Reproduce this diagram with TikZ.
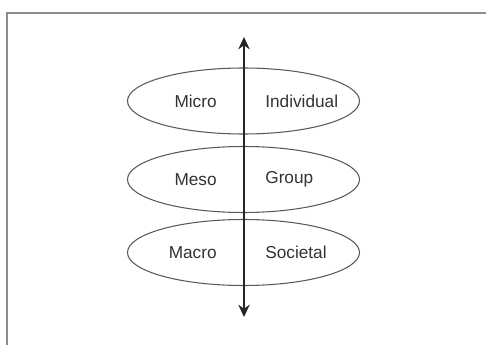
\documentclass[tikz,border=0pt]{standalone}
\usepackage{fontspec}
\setmainfont{Liberation Sans}
\usepackage{tikz}
\usetikzlibrary{shapes.geometric, arrows.meta}

\begin{document}
\begin{tikzpicture}[
    level/.style={draw=black!65, line width=0.6pt, ellipse,
      minimum width=4.64cm, minimum height=1.32cm, inner sep=0pt},
    lbl/.style={text=black!80, font=\fontsize{9.8}{12}\selectfont, inner sep=0pt}
  ]
    \useasboundingbox (0,0) rectangle (9.72,-6.9);
    \fill[white] (0,0) rectangle (9.72,-6.9);
    \draw[black!45, line width=1.1pt] (9.72,-0.26) -- (0.14,-0.26) -- (0.14,-6.9);

    \node[level] (micro) at (4.87,-2.02) {};
    \node[level] (meso) at (4.87,-3.59) {};
    \node[level] (macro) at (4.87,-5.05) {};

    \node[lbl, anchor=east] (microtxt) at (4.34,-2.02) {Micro};
    \node[lbl, anchor=west] (indtxt) at (5.30,-2.02) {Individual};
    \node[lbl, anchor=east] (mesotxt) at (4.34,-3.59) {Meso};
    \node[lbl, anchor=west] (grptxt) at (5.30,-3.59) {Group};
    \node[lbl, anchor=east] (macrotxt) at (4.34,-5.05) {Macro};
    \node[lbl, anchor=west] (soctxt) at (5.30,-5.05) {Societal};

    \coordinate (top) at (4.88,-0.74);
    \coordinate (bottom) at (4.88,-6.34);
    \draw[{Stealth[length=7pt,width=6.5pt]}-{Stealth[length=7pt,width=6.5pt]}, black!85, line width=1pt] (top) -- (bottom);
  \end{tikzpicture}
\end{document}
